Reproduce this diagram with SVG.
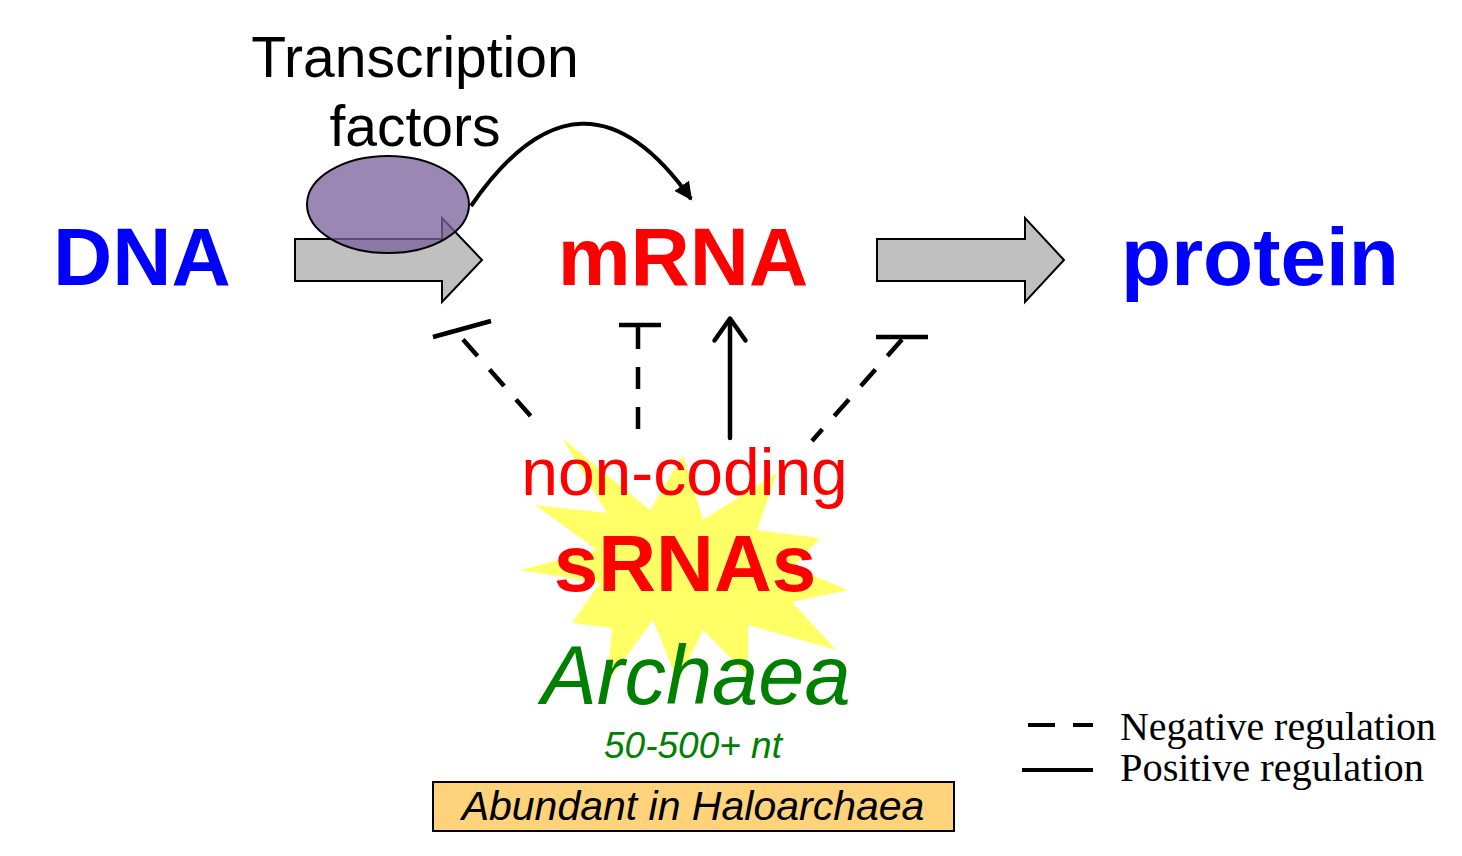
<svg xmlns="http://www.w3.org/2000/svg" width="1462" height="856" viewBox="0 0 1462 856">
<defs>
<style>
.sans{font-family:"Liberation Sans",Arial,sans-serif}
.big{font-weight:bold;font-size:82px}
.garrow{fill:#C0C0C0;stroke:#000;stroke-width:2;stroke-linejoin:miter}
.reg{stroke:#000;stroke-width:4.5;fill:none}
.dash{stroke-dasharray:22 18}
.legend{font-family:"Liberation Serif","Times New Roman",serif;font-size:39px;fill:#000}
</style>
<marker id="ah" viewBox="0 0 10 10" refX="9" refY="5" markerWidth="4.5" markerHeight="4.5" orient="auto" markerUnits="strokeWidth">
<path d="M0,0 L10,5 L0,10 z" fill="#000"/>
</marker>
</defs>
<rect width="1462" height="856" fill="#fff"/>

<g id="dna"><text class="sans big" x="53" y="285" fill="#0000FF">DNA</text></g>
<g id="mrna"><text class="sans big" x="683" y="285" text-anchor="middle" fill="#FF0000">mRNA</text></g>
<g id="protein"><text class="sans big" x="1260" y="285" text-anchor="middle" fill="#0000FF">protein</text></g>

<g id="arrow-left"><polygon class="garrow" points="295,239 442,239 442,218 482,260 442,302 442,281 295,281"/></g>
<g id="arrow-right"><polygon class="garrow" points="877,239 1025,239 1025,218 1064,260 1025,302 1025,281 877,281"/></g>

<g id="transcription-factors">
<ellipse cx="388" cy="204.5" rx="81" ry="48.5" fill="#7C619D" fill-opacity="0.76" stroke="#000" stroke-width="2"/>
<text class="sans" x="415" y="77" text-anchor="middle" font-size="57" fill="#000">Transcription</text>
<text class="sans" x="415" y="146" text-anchor="middle" font-size="57" fill="#000">factors</text>
</g>

<g id="srnas">
<polygon fill="#FFFF66" points="562,438 650,510 683,455 703,520 777,473 757,530 820,538 793,567 848,590 792,602 836,650 748,625 748,675 703,630 678,682 653,620 607,683 612,628 572,623 600,583 520,570 597,550 535,505 607,513"/>
<text class="sans" x="684.5" y="495" text-anchor="middle" font-size="66" fill="#FF0000">non-coding</text>
<text class="sans" x="685" y="591" text-anchor="middle" font-size="80" font-weight="bold" fill="#FF0000">sRNAs</text>
<text class="sans" x="696" y="704" text-anchor="middle" font-size="83" font-style="italic" fill="#008000">Archaea</text>
<text class="sans" x="693" y="758" text-anchor="middle" font-size="37" font-style="italic" fill="#008000">50-500+ nt</text>
</g>

<g id="haloarchaea">
<rect x="433" y="782" width="521" height="49" fill="#FFD37C" stroke="#000" stroke-width="2"/>
<text class="sans" x="693" y="820" text-anchor="middle" font-size="41" font-style="italic" fill="#000">Abundant in Haloarchaea</text>
</g>

<g id="connectors">
<path d="M471,206 Q582,45 691,199" fill="none" stroke="#000" stroke-width="4" marker-end="url(#ah)"/>
<line class="reg dash" x1="463" y1="339.6" x2="536" y2="422"/>
<line class="reg" x1="433" y1="337" x2="491" y2="321"/>
<line class="reg dash" x1="638" y1="327" x2="638" y2="437"/>
<line class="reg" x1="619" y1="325" x2="661" y2="325"/>
<line class="reg" x1="730" y1="438" x2="730" y2="319" stroke-linecap="round"/>
<polyline class="reg" points="714.5,340.5 730,318.5 745.5,340.5" stroke-linecap="round" stroke-linejoin="round"/>
<line class="reg dash" x1="902" y1="339.6" x2="812" y2="441"/>
<line class="reg" x1="876" y1="337" x2="928" y2="337"/>
</g>

<g id="legend">
<line x1="1028" y1="725" x2="1093" y2="725" stroke="#000" stroke-width="4" stroke-dasharray="27 18"/>
<line x1="1022" y1="770" x2="1093" y2="770" stroke="#000" stroke-width="4"/>
<text class="legend" x="1120" y="740" textLength="316" lengthAdjust="spacingAndGlyphs">Negative regulation</text>
<text class="legend" x="1120" y="781" textLength="304" lengthAdjust="spacingAndGlyphs">Positive regulation</text>
</g>
</svg>
